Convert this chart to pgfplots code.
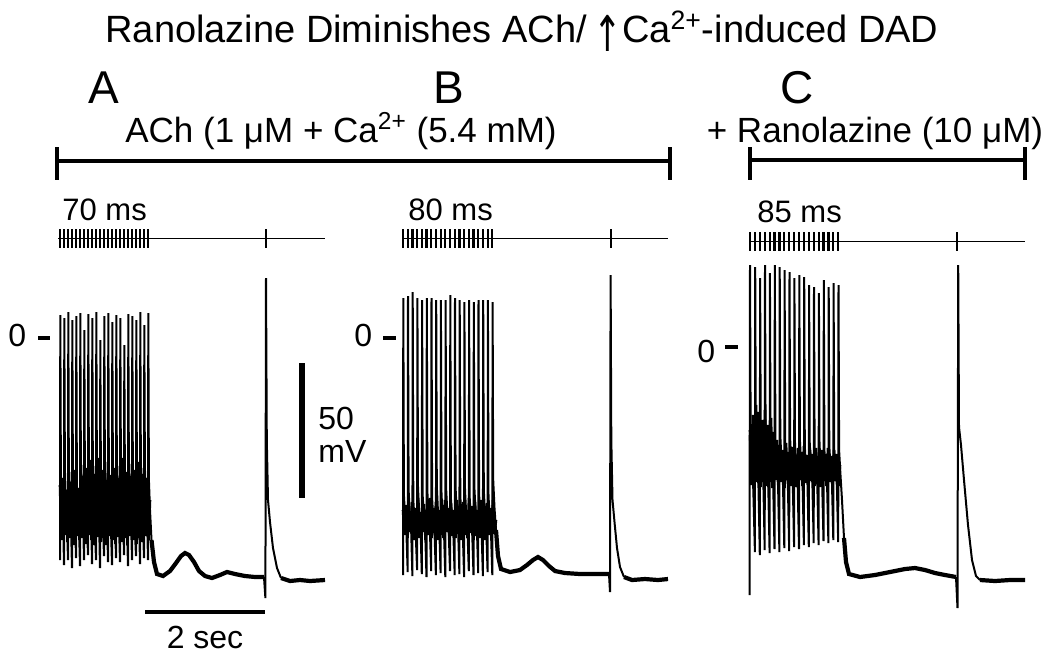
\documentclass[border=0pt]{standalone}
\usepackage{fontspec}
\setmainfont{Liberation Sans}
\newfontfamily\dejavu{DejaVu Sans}
\usepackage{graphicx}
\usepackage{pgfplots}
\pgfplotsset{compat=1.18}
\newcommand{\tfont}{\fontsize{17.5}{20}\selectfont}
\newcommand{\sfont}{\fontsize{15.5}{18}\selectfont}
\begin{document}
\begin{tikzpicture}
\begin{axis}[
  scale only axis, width=525pt, height=327.5pt,
  xmin=0, xmax=1050, ymin=0, ymax=655, y dir=reverse,
  hide axis, clip=false]
\path (rel axis cs:0,0) rectangle (rel axis cs:1,1);
% ---------- drug bars ----------
\addplot[black, line width=1.6pt] coordinates {(57,161) (670,161)};
\addplot[black, line width=2pt] coordinates {(57,147) (57,180)};
\addplot[black, line width=2pt] coordinates {(670,147) (670,180)};
\addplot[black, line width=1.6pt] coordinates {(750,160) (1025,160)};
\addplot[black, line width=2pt] coordinates {(750,147) (750,180)};
\addplot[black, line width=2pt] coordinates {(1025,147) (1025,180)};
% ---------- stimulus lines ----------
\addplot[black, line width=0.7pt] coordinates {(58,238.5) (325,238.5)};
\addplot[black, line width=0.7pt] coordinates {(403,238.5) (668,238.5)};
\addplot[black, line width=0.7pt] coordinates {(749,241.5) (1025,241.5)};
\addplot[only marks, black, mark=|, mark size=4.7pt, mark options={line width=1.1pt}] coordinates {
(60,238.5) (64,238.5) (68,238.5) (72,238.5) (76,238.5) (80,238.5) (84,238.5) (88,238.5) (92,238.5) (96,238.5) (100,238.5) (104,238.5) (108,238.5) (112,238.5) (116,238.5) (120,238.5) (124,238.5) (128,238.5) (132,238.5) (136,238.5) (140,238.5) (144,238.5) (148,238.5) (266,238.5)
(403,238.5) (407.7,238.5) (412.4,238.5) (417.1,238.5) (421.8,238.5) (426.5,238.5) (431.2,238.5) (435.9,238.5) (440.6,238.5) (445.3,238.5) (450,238.5) (454.7,238.5) (459.4,238.5) (464.1,238.5) (468.8,238.5) (473.5,238.5) (478.2,238.5) (482.9,238.5) (487.6,238.5) (492.3,238.5) (611,238.5)
(750,241.5) (754.9,241.5) (759.8,241.5) (764.7,241.5) (769.6,241.5) (774.5,241.5) (779.4,241.5) (784.3,241.5) (789.2,241.5) (794.1,241.5) (799,241.5) (803.9,241.5) (808.8,241.5) (813.7,241.5) (818.6,241.5) (823.5,241.5) (828.4,241.5) (833.3,241.5) (838.2,241.5) (957,241.5)};
% ---------- trace A ----------
\addplot[black, line width=1pt] coordinates {
(60,560) (60.3,315) (60.9,475) (62,500) (63.3,530)
(64,565) (64.3,318) (64.9,470) (66,505) (67.3,535)
(68,560) (68.3,312) (68.9,480) (70,510) (71.3,538)
(72,568) (72.3,320) (72.9,472) (74,500) (75.3,530)
(76,558) (76.3,316) (76.9,485) (78,512) (79.3,540)
(80,566) (80.3,313) (80.9,470) (82,498) (83.3,528)
(84,560) (84.3,330) (84.9,478) (86,505) (87.3,535)
(88,555) (88.3,314) (88.9,465) (90,495) (91.3,525)
(92,564) (92.3,318) (92.9,482) (94,512) (95.3,540)
(96,560) (96.3,312) (96.9,470) (98,500) (99.3,532)
(100,568) (100.3,340) (100.9,475) (102,505) (103.3,536)
(104,556) (104.3,316) (104.9,468) (106,498) (107.3,528)
(108,562) (108.3,313) (108.9,480) (110,510) (111.3,540)
(112,565) (112.3,322) (112.9,470) (114,502) (115.3,532)
(116,558) (116.3,315) (116.9,476) (118,506) (119.3,536)
(120,562) (120.3,318) (120.9,466) (122,496) (123.3,526)
(124,555) (124.3,345) (124.9,478) (126,508) (127.3,538)
(128,566) (128.3,314) (128.9,472) (130,502) (131.3,532)
(132,560) (132.3,316) (132.9,484) (134,512) (135.3,540)
(136,556) (136.3,320) (136.9,470) (138,500) (139.3,530)
(140,564) (140.3,312) (140.9,476) (142,506) (143.3,536)
(144,558) (144.3,325) (144.9,468) (146,498) (147.3,528)
(148,560) (148.3,313) (148.9,480) (150,510) (151.5,540)};
\addplot[black, line width=1.3pt] coordinates {
(60,485) (61.5,540) (63,478) (64.5,535) (66,490) (67.5,542) (69,472) (70.5,538) (72,482) (73.5,545) (75,470) (76.5,536) (78,488) (79.5,540) (81,465) (82.5,538) (84,476) (85.5,544) (87,468) (88.5,535) (90,460) (91.5,540) (93,474) (94.5,545) (96,466) (97.5,537) (99,458) (100.5,542) (102,470) (103.5,538) (105,480) (106.5,545) (108,462) (109.5,536) (111,475) (112.5,540) (114,468) (115.5,544) (117,478) (118.5,537) (120,466) (121.5,542) (123,458) (124.5,538) (126,472) (127.5,545) (129,464) (130.5,536) (132,476) (133.5,540) (135,470) (136.5,544) (138,462) (139.5,538) (141,474) (142.5,542) (144,468) (145.5,536) (147,478) (148.5,540) (150,500)};
\addplot[black, line width=2.1pt] coordinates {
(151.5,540) (154,562) (157,574) (163,576) (170,571) (176,563) (181,556) (185,553) (189,555) (194,562) (199,571) (205,576) (212,578) (220,575) (227,572) (235,574) (245,576) (255,577) (264,577)};
\addplot[black, line width=1pt] coordinates {
(264,577) (265.4,598) (266,278) (266.8,440) (268,500) (270,522) (273,548) (277,568) (281,578)};
\addplot[black, line width=2.1pt] coordinates {
(281,578) (290,581) (300,580) (310,581) (325,580)};
% ---------- trace B ----------
\addplot[black, line width=1pt] coordinates {
(403,575) (403.3,298) (403.9,495) (405,515) (406.5,535)
(407.7,572) (408,296) (408.6,490) (409.7,512) (411.2,532)
(412.4,576) (412.7,292) (413.3,500) (414.4,518) (415.9,538)
(417.1,570) (417.4,298) (418,488) (419.1,510) (420.6,530)
(421.8,574) (422.1,300) (422.7,496) (423.8,516) (425.3,536)
(426.5,577) (426.8,298) (427.4,492) (428.5,514) (430,534)
(431.2,571) (431.5,298) (432.1,498) (433.2,518) (434.7,538)
(435.9,575) (436.2,300) (436.8,486) (437.9,510) (439.4,532)
(440.6,573) (440.9,300) (441.5,494) (442.6,515) (444.1,535)
(445.3,577) (445.6,300) (446.2,490) (447.3,512) (448.8,534)
(450,571) (450.3,295) (450.9,498) (452,518) (453.5,538)
(454.7,575) (455,298) (455.6,488) (456.7,512) (458.2,532)
(459.4,574) (459.7,300) (460.3,496) (461.4,516) (462.9,536)
(464.1,577) (464.4,302) (465,490) (466.1,512) (467.6,534)
(468.8,571) (469.1,300) (469.7,498) (470.8,518) (472.3,536)
(473.5,575) (473.8,302) (474.4,488) (475.5,510) (477,532)
(478.2,573) (478.5,300) (479.1,494) (480.2,515) (481.7,535)
(482.9,576) (483.2,300) (483.8,490) (484.9,512) (486.4,534)
(487.6,572) (487.9,300) (488.5,496) (489.6,516) (491.1,536)
(492.3,575) (492.6,302) (493.2,480) (494.5,508) (496,530)};
\addplot[black, line width=1.3pt] coordinates {
(403,510) (404.5,535) (406,505) (407.5,538) (409,512) (410.5,532) (412,502) (413.5,540) (415,508) (416.5,534) (418,500) (419.5,538) (421,512) (422.5,532) (424,504) (425.5,540) (427,510) (428.5,535) (430,498) (431.5,538) (433,508) (434.5,533) (436,502) (437.5,540) (439,510) (440.5,535) (442,505) (443.5,538) (445,500) (446.5,532) (448,508) (449.5,540) (451,503) (452.5,536) (454,510) (455.5,538) (457,500) (458.5,534) (460,506) (461.5,540) (463,502) (464.5,535) (466,510) (467.5,538) (469,498) (470.5,533) (472,506) (473.5,540) (475,502) (476.5,536) (478,510) (479.5,538) (481,500) (482.5,534) (484,506) (485.5,540) (487,503) (488.5,535) (490,508) (491.5,538) (493,500) (494.5,534) (496,520)};
\addplot[black, line width=2.1pt] coordinates {
(496,530) (498,556) (501,569) (510,572) (520,570) (527,565) (533,560) (538,557) (543,560) (549,566) (555,571) (565,573) (580,574) (595,574) (609,574)};
\addplot[black, line width=1pt] coordinates {
(609,574) (610,592) (610.6,275) (611.3,440) (612.5,500) (614.5,522) (617,548) (620,567) (624,577)};
\addplot[black, line width=2.1pt] coordinates {
(624,577) (632,580) (645,579) (658,580) (668,579)};
% ---------- trace C ----------
\addplot[black, line width=1pt] coordinates {
(749.5,595) (750,265) (750.6,420) (751.8,455) (753.3,490)
(754.9,552) (755.2,267) (755.8,430) (757,460) (758.5,488)
(759.8,555) (760.1,278) (760.7,425) (761.9,458) (763.4,485)
(764.7,550) (765,265) (765.6,435) (766.8,462) (768.3,488)
(769.6,553) (769.9,273) (770.5,430) (771.7,458) (773.2,485)
(774.5,549) (774.8,265) (775.4,440) (776.6,465) (778.1,487)
(779.4,552) (779.7,267) (780.3,435) (781.5,462) (783,485)
(784.3,548) (784.6,270) (785.2,442) (786.4,466) (787.9,486)
(789.2,551) (789.5,272) (790.1,438) (791.3,463) (792.8,484)
(794.1,547) (794.4,278) (795,445) (796.2,467) (797.7,486)
(799,549) (799.3,275) (799.9,440) (801.1,464) (802.6,484)
(803.9,545) (804.2,277) (804.8,446) (806,468) (807.5,485)
(808.8,547) (809.1,285) (809.7,442) (810.9,465) (812.4,484)
(813.7,543) (814,287) (814.6,448) (815.8,468) (817.3,485)
(818.6,545) (818.9,293) (819.5,444) (820.7,466) (822.2,484)
(823.5,541) (823.8,280) (824.4,450) (825.6,470) (827.1,486)
(828.4,543) (828.7,287) (829.3,446) (830.5,467) (832,484)
(833.3,540) (833.6,283) (834.2,450) (835.4,470) (836.9,486)
(838.2,542) (838.5,285) (839.1,450) (840.3,472) (842,500) (844,538)};
\addplot[black, line width=1.3pt] coordinates {
(750,430) (751.5,485) (753,415) (754.5,488) (756,405) (757.5,482) (759,412) (760.5,487) (762,420) (763.5,480) (765,410) (766.5,486) (768,425) (769.5,482) (771,418) (772.5,488) (774,432) (775.5,480) (777,440) (778.5,486) (780,445) (781.5,482) (783,450) (784.5,488) (786,443) (787.5,480) (789,452) (790.5,486) (792,447) (793.5,482) (795,455) (796.5,487) (798,448) (799.5,480) (801,452) (802.5,486) (804,446) (805.5,483) (807,455) (808.5,488) (810,450) (811.5,481) (813,454) (814.5,486) (816,448) (817.5,482) (819,456) (820.5,487) (822,450) (823.5,481) (825,454) (826.5,486) (828,448) (829.5,482) (831,456) (832.5,487) (834,450) (835.5,481) (837,454) (838.5,486) (840,465)};
\addplot[black, line width=2.1pt] coordinates {
(844,538) (846,562) (849,574) (860,577) (875,575) (890,572) (905,569) (915,568) (925,570) (935,573) (945,575) (956,577)};
\addplot[black, line width=1pt] coordinates {
(956,577) (957.5,608) (958.2,265) (959,427) (961,445) (964,480) (968,525) (972,560) (976,576) (980,580)};
\addplot[black, line width=2.1pt] coordinates {
(980,580) (995,581) (1010,580) (1025,580)};
% ---------- zero markers ----------
\addplot[black, line width=2pt] coordinates {(38,338) (50,338)};
\addplot[black, line width=2pt] coordinates {(383,338) (396,338)};
\addplot[black, line width=2pt] coordinates {(725,347) (738,347)};
% ---------- scale bars ----------
\addplot[black, line width=3pt] coordinates {(302,363) (302,498)};
\addplot[black, line width=1.6pt] coordinates {(145,612) (265,612)};
% ---------- text ----------
\node[anchor=base, inner sep=0] at (axis cs:522,42) {\fontsize{19}{22}\selectfont Ranolazine Diminishes ACh/\,\raisebox{-0.25em}{\scalebox{0.9}[1.3]{\dejavu ↑}}Ca\textsuperscript{2+}-induced DAD};
\node[anchor=base west, inner sep=0] at (axis cs:88,103) {\fontsize{23}{26}\selectfont A};
\node[anchor=base west, inner sep=0] at (axis cs:433,103) {\fontsize{23}{26}\selectfont B};
\node[anchor=base west, inner sep=0] at (axis cs:780,103) {\fontsize{23}{26}\selectfont C};
\node[anchor=base, inner sep=0] at (axis cs:341,142) {\tfont ACh (1 μM + Ca\textsuperscript{2+} (5.4 mM)};
\node[anchor=base, inner sep=0] at (axis cs:875,142) {\tfont + Ranolazine (10 μM)};
\node[anchor=base west, inner sep=0] at (axis cs:62,220) {\sfont 70 ms};
\node[anchor=base west, inner sep=0] at (axis cs:408,220) {\sfont 80 ms};
\node[anchor=base west, inner sep=0] at (axis cs:757,222) {\sfont 85 ms};
\node[anchor=base west, inner sep=0] at (axis cs:8,346) {\fontsize{16}{18}\selectfont 0};
\node[anchor=base west, inner sep=0] at (axis cs:354,346) {\fontsize{16}{18}\selectfont 0};
\node[anchor=base west, inner sep=0] at (axis cs:697,362) {\fontsize{16}{18}\selectfont 0};
\node[anchor=base west, inner sep=0] at (axis cs:318,429) {\fontsize{16}{18}\selectfont 50};
\node[anchor=base west, inner sep=0] at (axis cs:318,462) {\fontsize{16}{18}\selectfont mV};
\node[anchor=base, inner sep=0] at (axis cs:205,648) {\fontsize{16}{18}\selectfont 2 sec};
\end{axis}
\end{tikzpicture}
\end{document}
